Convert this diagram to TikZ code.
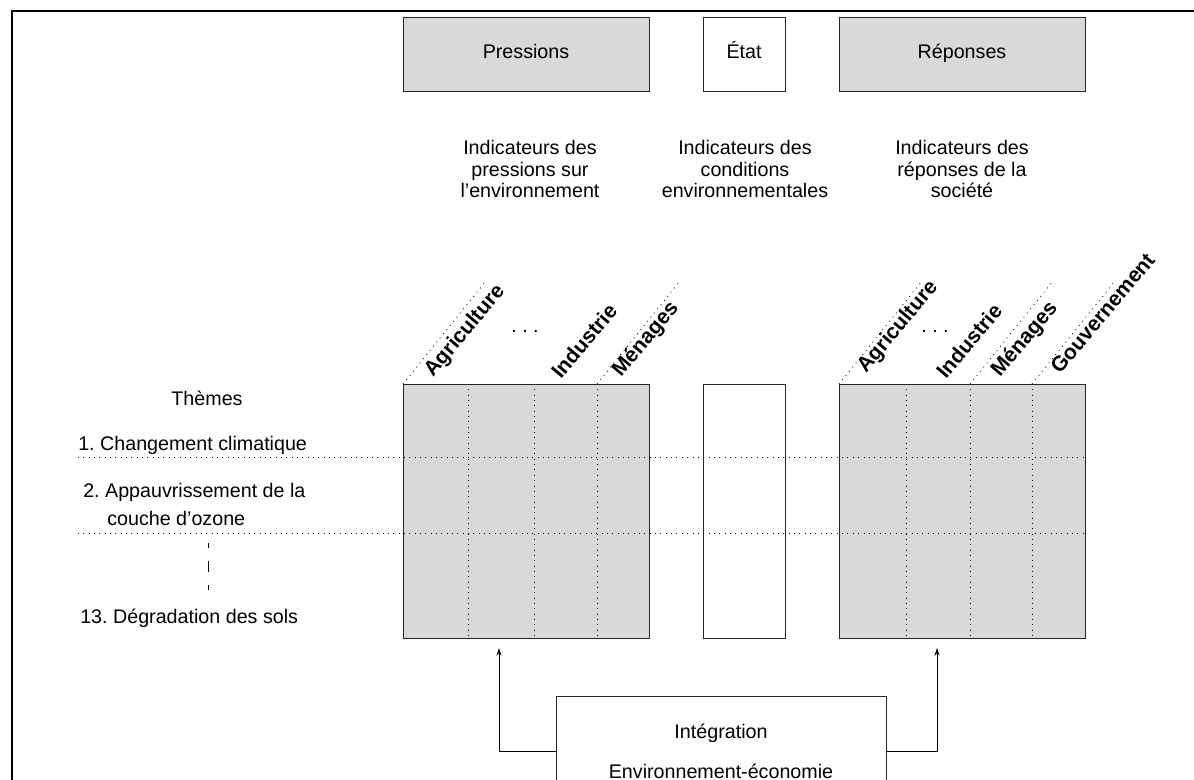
\documentclass[tikz,border=0pt]{standalone}
\usepackage{fontspec}
\setmainfont{Liberation Sans}
\frenchspacing
\usetikzlibrary{positioning,arrows.meta}
\definecolor{boxgray}{HTML}{D9D9D9}
\tikzset{
  kasten/.style={draw=black!85, line width=0.6pt, inner sep=0pt, font=\fontsize{14}{15.6}\selectfont},
  kopf/.style={kasten, minimum height=1.85cm, text height=10pt, text depth=3pt},
  grau/.style={fill=boxgray},
  gridln/.style={line width=0.6pt, dash pattern=on 0.6pt off 3.2pt},
  sektor/.style={font=\bfseries\fontsize{15}{18}\selectfont, rotate=50, anchor=base west, inner sep=0pt},
  txt/.style={font=\fontsize{14}{15.6}\selectfont, align=center, inner sep=0pt},
}
\begin{document}
\begin{tikzpicture}[x=0.025cm,y=-0.025cm,>={Stealth[length=5.5pt,width=3.6pt]}]
\useasboundingbox (0,0) rectangle (1194,780);
\clip (0,0) rectangle (1194,780);
%Rahmen
\draw[line width=1.4pt] (12,800) -- (12,11) -- (1200,11);
%Kopf
\node[kopf,grau,minimum width=6.15cm] (press) at (526,54) {Pressions};
\node[kopf,minimum width=2.05cm] (etat) at (744,54) {État};
\node[kopf,grau,minimum width=6.15cm] (rep) at (962,54) {Réponses};
%Indikatoren
\node[txt] (ipress) at (530,169) {Indicateurs des\\pressions sur\\l’environnement};
\node[txt] (ietat) at (745,169) {Indicateurs des\\conditions\\environnementales};
\node[txt] (irep) at (962,169) {Indicateurs des\\réponses de la\\société};
%Matrizen
\node[kasten,grau,minimum width=6.15cm,minimum height=6.35cm] (pmat) at (526,511) {};
\node[kasten,minimum width=2.05cm,minimum height=6.35cm] (emat) at (744,511) {};
\node[kasten,grau,minimum width=6.15cm,minimum height=6.35cm] (rmat) at (962,511) {};
\foreach \x in {468,534,597,906,970,1032}
  \draw[gridln] (\x,384) -- (\x,638);
\foreach \y in {457,533}
  \draw[gridln] (78,\y) -- (1085,\y);
%Sektoren
\foreach \x in {403,597,839,970,1032}
  \draw[gridln] (\x,384) -- ++(83,-103);
\node[sektor] (pagr) at (433,378) {Agriculture};
\node[sektor] (pind) at (561,380) {Industrie};
\node[sektor] (pmen) at (621,378) {Ménages};
\node[txt] (pdots) at (525,331) {. . .};
\node[sektor] (ragr) at (866,374) {Agriculture};
\node[sektor] (rind) at (946,380) {Industrie};
\node[sektor] (rmen) at (1000,378) {Ménages};
\node[sektor] (rgov) at (1060,375) {Gouvernement};
\node[txt] (rdots) at (935,331) {. . .};
%Themen
\node[txt] (themes) at (207,398) {Thèmes};
\node[txt,anchor=west] (t1) at (78,445) {1. Changement climatique};
\node[txt,anchor=west,align=left] (t2) at (83,504) {2. Appauvrissement de la\\[4.3pt]\hspace*{0.6cm}couche d’ozone};
\node[txt,anchor=west] (t13) at (80,618) {13. Dégradation des sols};
\draw[line width=0.7pt, dash pattern=on 7.8pt off 9.2pt, dash phase=4.3pt] (208,543) -- (208,590);
%Integration
\node[kasten,fill=white,minimum width=8.25cm,minimum height=2.75cm,align=center] (integ) at (721,751)
  {Intégration\\[12.8pt]Environnement-économie};
\coordinate (pin) at (499,648);
\coordinate (rin) at (937,648);
\draw[->,line width=0.7pt] (integ.west) -| (pin);
\draw[->,line width=0.7pt] (integ.east) -| (rin);
\end{tikzpicture}
\end{document}
